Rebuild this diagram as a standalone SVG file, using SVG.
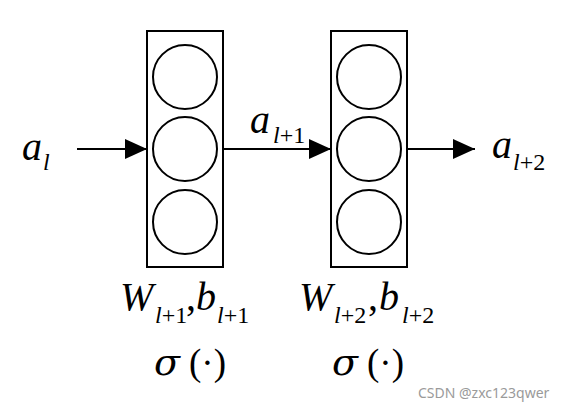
<svg xmlns="http://www.w3.org/2000/svg" width="574" height="412" viewBox="0 0 574 412">
<style>
.box{fill:none;stroke:#000;stroke-width:2}
.c{fill:none;stroke:#000;stroke-width:2}
.ln{stroke:#000;stroke-width:2;fill:none}
.m{font-family:"Liberation Serif","Times New Roman","DejaVu Serif",serif;fill:#000;font-size:40px}
.i{font-style:italic}
.sub{font-size:24px}
.sg{font-family:"DejaVu Serif",serif;font-style:italic;font-size:38px}
.pr{font-size:37px}
.wm{font-family:"Noto Sans","DejaVu Sans",sans-serif;font-size:14px;fill:#9a9a9a}
</style>
<defs>
<marker id="ah" markerWidth="22" markerHeight="20" refX="22" refY="10" orient="auto" markerUnits="userSpaceOnUse">
<path d="M0,0 L22,10 L0,20 Z" fill="#000"/>
</marker>
</defs>
<rect width="574" height="412" fill="#fff"/>
<g id="layer1">
<rect class="box" x="147" y="31" width="76" height="236"/>
<circle class="c" cx="185" cy="77" r="32"/>
<circle class="c" cx="185" cy="149" r="32"/>
<circle class="c" cx="185" cy="222" r="32"/>
</g>
<g id="layer2">
<rect class="box" x="331" y="31" width="76" height="236"/>
<circle class="c" cx="369" cy="77" r="32"/>
<circle class="c" cx="369" cy="149" r="32"/>
<circle class="c" cx="369" cy="222" r="32"/>
</g>
<g id="connectors">
<line class="ln" x1="77" y1="149" x2="147" y2="149" marker-end="url(#ah)"/>
<line class="ln" x1="223" y1="149" x2="331" y2="149" marker-end="url(#ah)"/>
<line class="ln" x1="407" y1="149" x2="475" y2="149" marker-end="url(#ah)"/>
</g>
<g id="labels" font-family="'Liberation Serif', 'Times New Roman', serif">
<text class="m"><tspan class="i" x="22" y="160">a</tspan><tspan class="i sub" x="43" y="170">l</tspan></text>
<text class="m"><tspan class="i" x="250" y="133">a</tspan><tspan class="sub" x="273" y="143"><tspan class="i">l</tspan>+1</tspan></text>
<text class="m"><tspan class="i" x="492" y="158">a</tspan><tspan class="sub" x="513" y="170"><tspan class="i">l</tspan>+2</tspan></text>
<text class="m"><tspan class="i" x="120" y="310">W</tspan><tspan class="sub" x="155" y="323"><tspan class="i">l</tspan>+1</tspan><tspan x="186" y="310">,</tspan><tspan class="i" x="196" y="310">b</tspan><tspan class="sub" x="217" y="323"><tspan class="i">l</tspan>+1</tspan></text>
<text class="m"><tspan class="i" x="299" y="310">W</tspan><tspan class="sub" x="334" y="323"><tspan class="i">l</tspan>+2</tspan><tspan x="368" y="310">,</tspan><tspan class="i" x="379" y="310">b</tspan><tspan class="sub" x="402" y="323"><tspan class="i">l</tspan>+2</tspan></text>
<text class="m"><tspan class="sg" x="154" y="375">σ</tspan><tspan class="pr" x="189" y="375">(·)</tspan></text>
<text class="m"><tspan class="sg" x="332" y="375">σ</tspan><tspan class="pr" x="367" y="375">(·)</tspan></text>
<text class="wm" x="418" y="398">CSDN @zxc123qwer</text>
</g>
</svg>
